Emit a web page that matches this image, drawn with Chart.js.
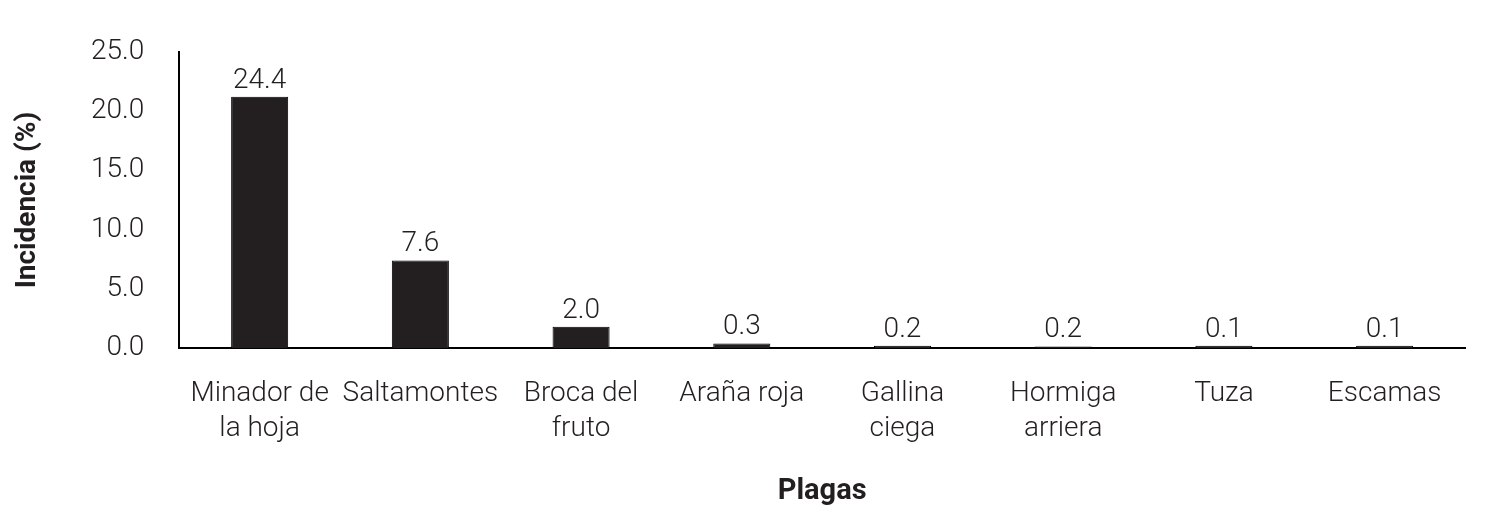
<!DOCTYPE html>
<html>
<head>
<meta charset="utf-8">
<script src="https://cdn.jsdelivr.net/npm/chart.js@4/dist/chart.umd.min.js"></script>
<style>
  html, body { margin: 0; padding: 0; background: #fff; }
  #wrap { width: 1495px; height: 513px; }
</style>
</head>
<body>
<div id="wrap"><canvas id="myChart"></canvas></div>
<script>
Chart.defaults.font.family = 'Roboto, "Liberation Sans", sans-serif';
Chart.defaults.color = '#231f20';

var plagas = [
    ['Minador de', 'la hoja'],
    'Saltamontes',
    ['Broca del', 'fruto'],
    'Araña roja',
    ['Gallina', 'ciega'],
    ['Hormiga', 'arriera'],
    'Tuza',
    'Escamas'
];
// bar heights as drawn in the picture
var incidencia = [21.2, 7.4, 1.8, 0.4, 0.2, 0.15, 0.2, 0.2];
// value labels printed above the bars
var etiquetas = ['24.4', '7.6', '2.0', '0.3', '0.2', '0.2', '0.1', '0.1'];

var valueLabels = {
    id: 'valueLabels',
    afterDatasetsDraw: function (chart) {
        var ctx = chart.ctx;
        var meta = chart.getDatasetMeta(0);
        ctx.save();
        ctx.font = '300 28px Roboto';
        ctx.fillStyle = '#231f20';
        ctx.textAlign = 'center';
        ctx.textBaseline = 'alphabetic';
        meta.data.forEach(function (bar, i) {
            ctx.fillText(etiquetas[i], bar.x, bar.y - 9);
        });
        ctx.restore();
    }
};

var ctx = document.getElementById('myChart');
var myChart = new Chart(ctx, {
    type: 'bar',
    data: {
        labels: plagas,
        datasets: [{
            data: incidencia,
            backgroundColor: '#231f20',
            borderColor: '#000',
            borderWidth: 1,
            categoryPercentage: 1,
            barPercentage: 0.355
        }]
    },
    plugins: [valueLabels],
    options: {
        responsive: true,
        maintainAspectRatio: false,
        animation: false,
        layout: {
            padding: { left: 14, right: 30, top: 34, bottom: 0 }
        },
        plugins: {
            legend: { display: false },
            tooltip: { enabled: false }
        },
        scales: {
            x: {
                grid: { display: false, drawTicks: false },
                border: { display: true, color: '#000', width: 2 },
                ticks: {
                    padding: 28,
                    maxRotation: 0,
                    autoSkip: false,
                    font: { size: 28, weight: 300, lineHeight: 1.25 }
                },
                title: {
                    display: true,
                    text: 'Plagas',
                    font: { size: 29, weight: 'bold', lineHeight: 1.2 },
                    padding: { top: 0, bottom: 4 }
                }
            },
            y: {
                min: 0,
                max: 25,
                grid: { display: false, drawTicks: false },
                border: { display: true, color: '#000', width: 2 },
                ticks: {
                    stepSize: 5,
                    padding: 35,
                    font: { size: 28, weight: 300 },
                    callback: function (v) { return v.toFixed(1); }
                },
                title: {
                    display: true,
                    text: 'Incidencia (%)',
                    font: { size: 28, weight: 'bold', lineHeight: 1 },
                    padding: { top: 0, bottom: 14 }
                }
            }
        }
    }
});
</script>
</body>
</html>
